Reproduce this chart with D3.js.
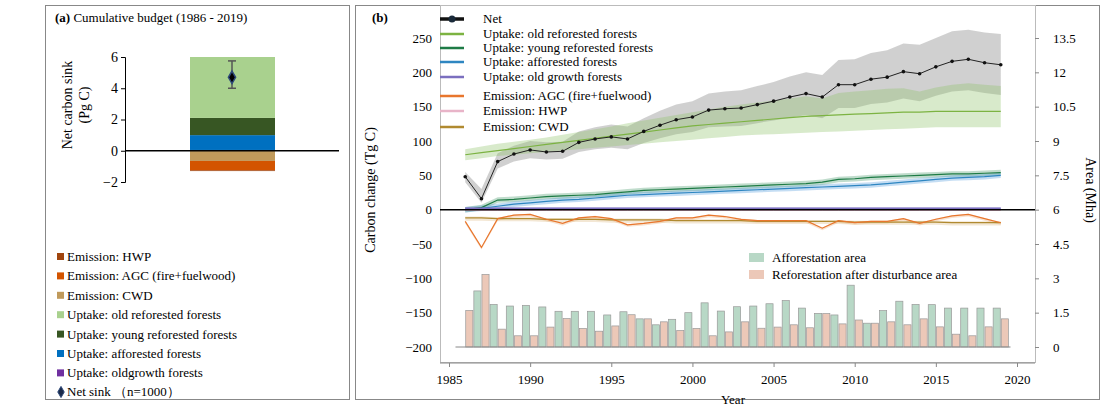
<!DOCTYPE html><html><head><meta charset="utf-8"><script src="https://cdn.jsdelivr.net/npm/d3@7"></script>
<style>body{margin:0;background:#fff}svg,svg text{font-family:"Liberation Serif","Times New Roman","DejaVu Serif",serif !important}</style></head><body>
<svg id="c" width="1104" height="416" font-family="Liberation Serif, serif"></svg>
<script>
const years=d3.range(1986,2020);
const net=[48,16,70,81,87,84,85,98,103,106,103,114,123,131,135,145,147,148,153,158,164,169,164,182,182,190,193,201,198,208,216,219,214,211];
const netLo=[40,10,60,70,75,73,74,84,88,90,88,97,104,110,113,120,121,122,126,130,134,138,133,148,148,154,156,162,158,166,172,174,170,167];
const netHi=[55,30,82,93,100,98,99,114,120,124,121,133,144,153,158,169,172,174,180,186,194,200,196,218,219,228,232,242,240,250,260,262,258,256];
const oldRef=[80,83,86,89,92,95,98,101,104,107,110,113,116,119,122,124,126,128,130,132,134,136,137,138,139,140,141,142,142,143,143,143,143,143];
const oldRefLo=[72,75,78,80,82,84,86,88,90,92,94,96,98,100,102,104,106,108,109,110,111,112,113,114,115,116,117,118,119,120,120,120,120,120];
const oldRefHi=[88,92,96,99,102,105,109,113,117,121,126,130,134,138,142,146,150,153,156,159,162,165,162,170,172,174,176,177,172,178,182,184,182,180];
const young=[0,3,14,15,17,19,20,21,22,24,26,28,29,30,31,32,33,34,35,36,37,38,40,44,45,47,48,49,50,51,52,52,53,54];
const aff=[0,2,5,8,10,12,14,15,17,19,21,22,23,24,25,26,27,28,29,30,31,32,33,34,35,36,38,40,42,44,46,47,48,50];
const oldGrowth=years.map(()=>2);
const agc=[-17,-55,-13,-8,-7,-14,-20,-12,-10,-13,-22,-20,-17,-12,-12,-8,-10,-14,-16,-16,-16,-16,-27,-16,-19,-17,-17,-13,-20,-14,-9,-7,-13,-19];
const cwd=[-12,-12,-13,-13,-13,-14,-14,-14,-14,-15,-15,-15,-15,-16,-16,-16,-16,-16,-17,-17,-17,-17,-17,-17,-18,-18,-18,-18,-18,-18,-19,-19,-19,-19];
const hwp=years.map(()=>-1);
const affArea=[0,2.45,1.86,1.79,1.82,1.75,1.56,1.56,1.56,1.4,1.54,1.23,0.97,1.21,1.5,1.93,1.57,1.76,1.79,1.89,2.03,1.7,1.47,1.4,2.7,1.04,1.59,2.0,1.86,1.85,1.7,1.7,1.7,1.7];
const refArea=[1.6,3.17,0.78,0.49,0.49,0.87,1.24,0.81,0.69,0.92,1.41,1.23,1.1,0.72,0.81,0.49,0.66,1.1,0.82,0.87,0.97,0.84,1.46,1.01,1.18,1.04,1.1,0.97,1.23,0.88,0.56,0.49,0.88,1.23];
const budgetPos=[["Uptake: oldgrowth forests",0.05,"#7030a0"],["Uptake: afforested forests",0.95,"#0070c0"],["Uptake: young reforested forests",1.1,"#375623"],["Uptake: old reforested forests",3.9,"#a9d18e"]];
const budgetNeg=[["Emission: CWD",0.65,"#c09a5b"],["Emission: AGC (fire+fuelwood)",0.6,"#d35400"],["Emission: HWP",0.05,"#a0450e"]];
const netSink=4.7, netSinkLo=4.0, netSinkHi=5.75;

const FF="Liberation Serif, Times New Roman, serif";
const svg=d3.select("#c");
svg.append("rect").attr("x",45.5).attr("y",5.5).attr("width",304).attr("height",394).attr("fill","none").attr("stroke","#888");
svg.append("text").attr("x",55).attr("y",22).attr("font-size",13).html('<tspan font-weight="bold">(a)</tspan> Cumulative budget (1986 - 2019)');
const ya=d3.scaleLinear().domain([-2,6]).range([182,57]);
const ga=svg.append("g");
ga.append("g").attr("transform","translate(125,0)").call(d3.axisLeft(ya).ticks(4).tickSize(4).tickFormat(d3.format("d")))
 .call(g=>{g.attr("font-family",FF);g.selectAll("text").attr("font-size",14);g.select(".domain").attr("stroke","#000");});
let acc=0;
budgetPos.forEach(b=>{ga.append("rect").attr("x",190).attr("width",85).attr("y",ya(acc+b[1])).attr("height",ya(acc)-ya(acc+b[1])).attr("fill",b[2]);acc+=b[1];});
acc=0;
budgetNeg.forEach(b=>{ga.append("rect").attr("x",190).attr("width",85).attr("y",ya(acc)).attr("height",ya(acc-b[1])-ya(acc)).attr("fill",b[2]);acc-=b[1];});
ga.append("line").attr("x1",125).attr("x2",339).attr("y1",ya(0)).attr("y2",ya(0)).attr("stroke","#000").attr("stroke-width",1.5);
ga.append("line").attr("x1",232).attr("x2",232).attr("y1",ya(netSinkLo)).attr("y2",ya(netSinkHi)).attr("stroke","#555").attr("stroke-width",1.5);
[netSinkLo,netSinkHi].forEach(v=>ga.append("line").attr("x1",228).attr("x2",236).attr("y1",ya(v)).attr("y2",ya(v)).attr("stroke","#555").attr("stroke-width",1.5));
ga.append("path").attr("d",d3.symbol(d3.symbolDiamond,45)()).attr("transform",`translate(232,${ya(netSink)})`).attr("fill","#000").attr("stroke","#2e4a7a").attr("stroke-width",1.5);
ga.append("text").attr("transform","translate(72,105) rotate(-90)").attr("text-anchor","middle").attr("font-size",14).text("Net carbon sink");
ga.append("text").attr("transform","translate(89,105) rotate(-90)").attr("text-anchor","middle").attr("font-size",14).text("(Pg C)");
const legA=[budgetNeg[2],budgetNeg[1],budgetNeg[0],budgetPos[3],budgetPos[2],budgetPos[1],budgetPos[0]];
legA.forEach((b,i)=>{const y=257+i*19.4;ga.append("rect").attr("x",57).attr("y",y-4).attr("width",7).attr("height",7).attr("fill",b[2]);
 ga.append("text").attr("x",67).attr("y",y+4).attr("font-size",13).text(b[0]);});
ga.append("path").attr("d",d3.symbol(d3.symbolDiamond,36)()).attr("transform",`translate(61,392)`).attr("fill","#1a2a4a").attr("stroke","#2e4a7a");
ga.append("text").attr("x",67).attr("y",396).attr("font-size",13).text("Net sink （n=1000）");

svg.append("rect").attr("x",355.5).attr("y",5.5).attr("width",744).attr("height",394).attr("fill","none").attr("stroke","#888");
svg.append("text").attr("x",372).attr("y",22).attr("font-size",13).attr("font-weight","bold").text("(b)");
const x=d3.scaleLinear().domain([1985,2020]).range([449,1017]);
const y=d3.scaleLinear().domain([-200,250]).range([347,38]);
const yr=d3.scaleLinear().domain([0,13.5]).range([347,38]);
const gb=svg.append("g");
gb.append("rect").attr("x",440.5).attr("y",5.5).attr("width",595).attr("height",357).attr("fill","none").attr("stroke","#bbb");
const bw=x(1986.5)-x(1986)-1;
gb.selectAll(".ba").data(years).join("rect").attr("x",d=>x(d)-bw-0.5).attr("width",bw).attr("y",(d,i)=>yr(affArea[i])).attr("height",(d,i)=>yr(0)-yr(affArea[i]))
 .attr("fill","#b8d8c6").attr("stroke","#999").attr("stroke-width",0.7).attr("display",(d,i)=>affArea[i]>0?null:"none");
gb.selectAll(".br").data(years).join("rect").attr("x",d=>x(d)+0.5).attr("width",bw).attr("y",(d,i)=>yr(refArea[i])).attr("height",(d,i)=>yr(0)-yr(refArea[i]))
 .attr("fill","#ecc8b8").attr("stroke","#999").attr("stroke-width",0.7);
gb.append("line").attr("x1",x(1985.4)).attr("x2",x(2019.6)).attr("y1",yr(0)).attr("y2",yr(0)).attr("stroke","#888");
const area=(lo,hi)=>d3.area().x((d,i)=>x(years[i])).y0((d,i)=>y(lo[i])).y1((d,i)=>y(hi[i]));
const line=v=>d3.line().x((d,i)=>x(years[i])).y((d,i)=>y(v[i]))(years);
gb.append("path").attr("d",area(netLo,netHi)(years)).attr("fill","#aaa").attr("opacity",0.55);
gb.append("path").attr("d",area(oldRefLo,oldRefHi)(years)).attr("fill","#8fc46a").attr("opacity",0.35);
const pm=(a,d)=>[a.map(v=>v-d),a.map(v=>v+d)];
[[young,"#2e8b57"],[aff,"#3a8fd6"]].forEach(([v,c])=>{const [lo,hi]=pm(v,4);gb.append("path").attr("d",area(lo,hi)(years)).attr("fill",c).attr("opacity",0.3);});
gb.append("path").attr("d",area(agc.map(v=>v-3),agc.map(v=>v+1))(years)).attr("fill","#e8a060").attr("opacity",0.3);
gb.append("path").attr("d",area(cwd.map(v=>v-4),cwd.map(v=>v+2))(years)).attr("fill","#d8b070").attr("opacity",0.3);
gb.append("path").attr("d",area(oldGrowth.map(v=>v-2),oldGrowth.map(v=>v+1))(years)).attr("fill","#8a7fd0").attr("opacity",0.5);
const series=[[oldRef,"#7cb342",1.2],[young,"#1e7b46",1.2],[aff,"#2e86c1",1.2],[oldGrowth,"#7b6fbf",1.5],[cwd,"#b08a30",1.2],[hwp,"#e8b4c8",1],[agc,"#e8762d",1.2]];
series.forEach(([v,c,w])=>gb.append("path").attr("d",line(v)).attr("fill","none").attr("stroke",c).attr("stroke-width",w));
gb.append("line").attr("x1",440).attr("x2",1035).attr("y1",y(0)).attr("y2",y(0)).attr("stroke","#000").attr("stroke-width",1.5);
gb.append("path").attr("d",line(net)).attr("fill","none").attr("stroke","#222").attr("stroke-width",1);
gb.selectAll(".pt").data(years).join("circle").attr("cx",d=>x(d)).attr("cy",(d,i)=>y(net[i])).attr("r",1.8).attr("fill","#111");
const sty=g=>{g.attr("font-family",FF);g.selectAll("text").attr("font-size",13);g.select(".domain").attr("stroke","#888");g.selectAll("line").attr("stroke","#888");};
gb.append("g").attr("transform","translate(440,0)").call(d3.axisLeft(y).tickValues(d3.range(-200,251,50)).tickSize(0).tickPadding(8)).call(sty).call(g=>g.select(".domain").remove());
gb.append("g").attr("transform","translate(1035,0)").call(d3.axisRight(yr).tickValues(d3.range(0,13.6,1.5)).tickSize(4).tickPadding(14).tickFormat(d=>d%1?d.toFixed(1):d)).call(sty).call(g=>g.select(".domain").remove());
gb.append("g").attr("transform","translate(0,363)").call(d3.axisBottom(x).tickValues(d3.range(1985,2021,5)).tickSize(4).tickPadding(8).tickFormat(d3.format("d"))).call(sty).call(g=>g.select(".domain").attr("d","M440,0H1035"));
gb.append("text").attr("x",733).attr("y",404).attr("text-anchor","middle").attr("font-size",13).text("Year");
gb.append("text").attr("transform","translate(375,190) rotate(-90)").attr("text-anchor","middle").attr("font-size",14).text("Carbon change (Tg C)");
gb.append("text").attr("transform","translate(1086,190) rotate(90)").attr("text-anchor","middle").attr("font-size",14).text("Area (Mha)");
const legB=[["Net","#111",19],["Uptake: old reforested forests","#7cb342",34],["Uptake: young reforested forests","#1e7b46",48],["Uptake: afforested forests","#2e86c1",62],["Uptake: old growth forests","#7b6fbf",77],["Emission: AGC (fire+fuelwood)","#e8762d",96],["Emission: HWP","#e8b4c8",111],["Emission: CWD","#b08a30",127]];
legB.forEach(([t,c,yy],i)=>{gb.append("line").attr("x1",440).attr("x2",464).attr("y1",yy).attr("y2",yy).attr("stroke",c).attr("stroke-width",i==0?3.5:2.5);
 if(i==0)gb.append("circle").attr("cx",452).attr("cy",yy).attr("r",3.5).attr("fill","#1a2a3a");
 gb.append("text").attr("x",483).attr("y",yy+4).attr("font-size",13).text(t);});
[["Afforestation area","#b8d8c6",258],["Reforestation after disturbance area","#ecc8b8",275]].forEach(([t,c,yy])=>{
 gb.append("rect").attr("x",749).attr("y",yy-5).attr("width",15).attr("height",9).attr("fill",c);
 gb.append("text").attr("x",772).attr("y",yy+4).attr("font-size",13).text(t);});
</script></body></html>
